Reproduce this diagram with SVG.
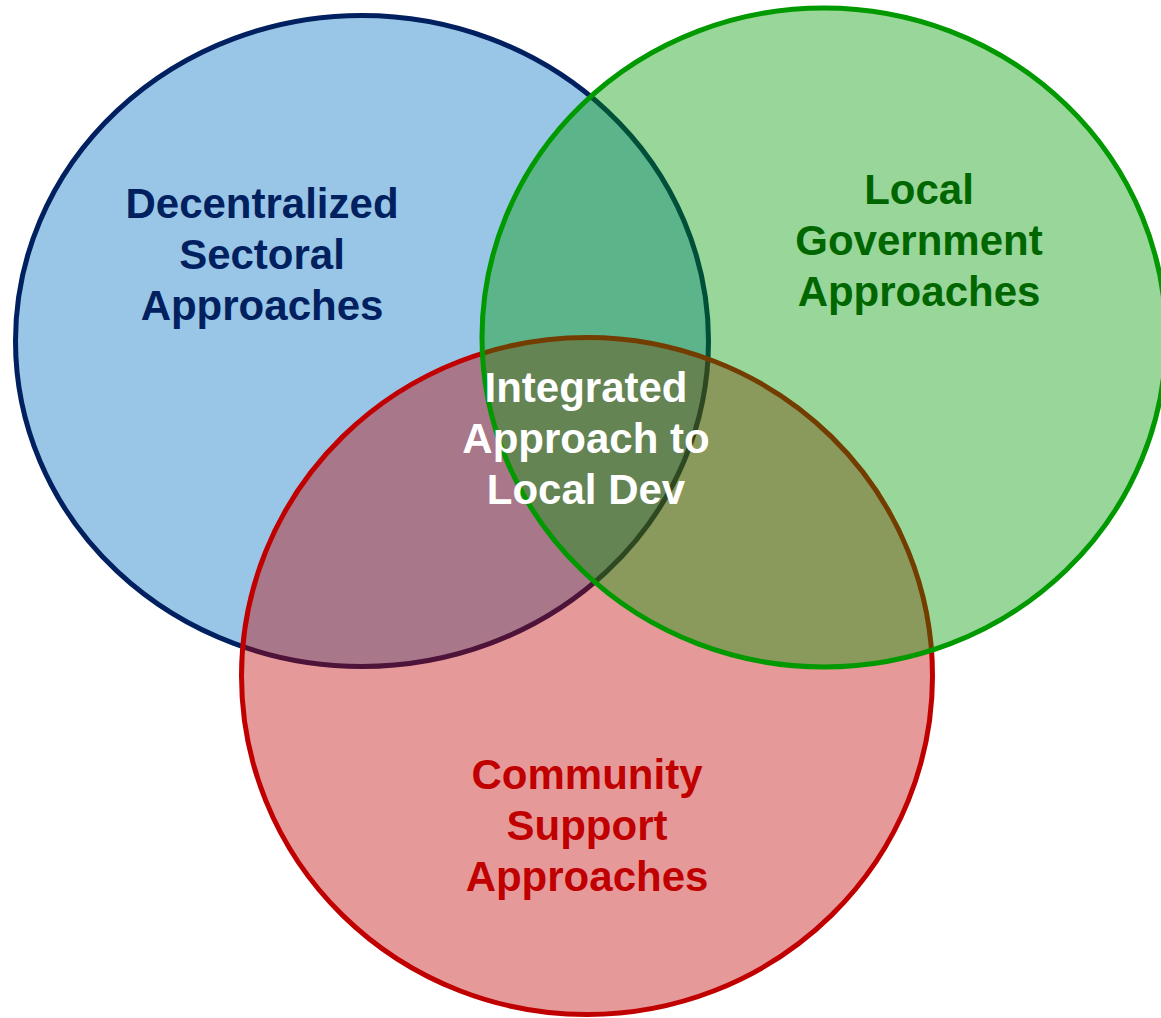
<svg xmlns="http://www.w3.org/2000/svg" width="1161" height="1018" viewBox="0 0 1161 1018">
  <style>
    .set { stroke-width: 5; }
    .set ellipse { fill-opacity: 0.4; }
    text { font-family: "Liberation Sans", Arial, sans-serif; font-weight: bold; font-size: 42px; text-anchor: middle; }
    .blue ellipse { fill: #0070c0; stroke: #002060; }
    .red ellipse { fill: #c00000; stroke: #c00000; }
    .green ellipse { fill: #009900; stroke: #009900; }
    .blue text { fill: #002060; }
    .red text { fill: #c00000; }
    .green text { fill: #006600; }
    .core text { fill: #ffffff; }
  </style>
  <rect width="1161" height="1018" fill="#ffffff"/>
  <!-- three overlapping sets: drawn blue, red, green so each semi-transparent fill tints what lies beneath -->
  <g id="decentralized-sectoral" class="set blue">
    <ellipse cx="362" cy="341" rx="346.5" ry="325.5"/>
  </g>
  <g id="community-support" class="set red">
    <ellipse cx="587" cy="676" rx="345.5" ry="338.5"/>
  </g>
  <g id="local-government" class="set green">
    <ellipse cx="824" cy="337.5" rx="342" ry="329.5"/>
  </g>
  <g id="connectors"></g>
  <!-- labels -->
  <g id="label-decentralized" class="blue">
    <text x="262" y="218">Decentralized</text>
    <text x="262" y="269">Sectoral</text>
    <text x="262" y="320">Approaches</text>
  </g>
  <g id="label-local-government" class="green">
    <text x="919" y="204">Local</text>
    <text x="919" y="255">Government</text>
    <text x="919" y="306">Approaches</text>
  </g>
  <g id="label-community" class="red">
    <text x="587" y="789">Community</text>
    <text x="587" y="840">Support</text>
    <text x="587" y="891">Approaches</text>
  </g>
  <g id="integrated-approach" class="core">
    <text x="586" y="402">Integrated</text>
    <text x="586" y="453">Approach to</text>
    <text x="586" y="504">Local Dev</text>
  </g>
</svg>
